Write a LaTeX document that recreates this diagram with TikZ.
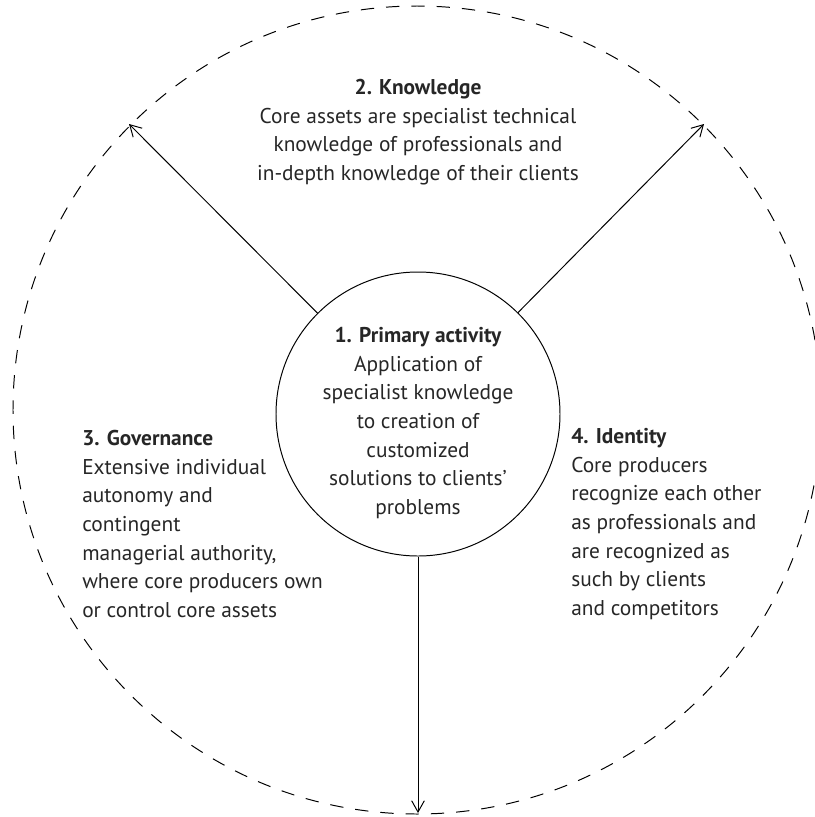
\documentclass[tikz,border=0pt]{standalone}
\usepackage{fontspec}
\setmainfont{PT Sans}
\usetikzlibrary{arrows.meta}

\begin{document}
\begin{tikzpicture}[
   x=0.025cm, y=-0.025cm,
   hub/.style={circle, draw=black, line width=0.7pt, inner sep=0,
               minimum size=284*0.025cm},
   rim/.style={draw=black, line width=0.7pt, dash pattern=on 9.5pt off 8.5pt},
   blurb/.style={font=\fontsize{15.2}{20.3}\selectfont, inner sep=0,
                 text=black!85},
   spoke/.style={-{Straight Barb[length=8pt, width=9pt]}, line width=0.7pt}
  ]

  \useasboundingbox (0, 0) rectangle (815, 817);

  % Outer ring
  \draw[rim] (417, 410) circle [radius=404];

  \coordinate (rimL) at (129, 124);
  \coordinate (rimR) at (704, 124);
  \coordinate (rimB) at (418, 813);

  \node (hub) at (418, 414) [hub] {};

  \node (act) at (418, 423) [blurb, align=center]
    {\textbf{1. Primary activity}\\ Application of\\ specialist knowledge\\
     to creation of\\ customized\\ solutions to clients'\\ problems};

  \node (know) at (418, 132) [blurb, align=center]
    {\textbf{2. Knowledge}\\ Core assets are specialist technical\\
     knowledge of professionals and\\ in-depth knowledge of their clients};

  \node (gov) at (82, 524) [blurb, align=left, anchor=west]
    {\textbf{3. Governance}\\ Extensive individual\\ autonomy and\\ contingent\\
     managerial authority,\\ where core producers own\\ or control core assets};

  \node (ident) at (571, 524) [blurb, align=left, anchor=west]
    {\textbf{4. Identity}\\ Core producers\\ recognize each other\\
     as professionals and\\ are recognized as\\ such by clients\\ and competitors};

  \foreach \E in {rimL, rimR, rimB} {
    \draw[spoke] (hub) -- (\E);
  }

\end{tikzpicture}
\end{document}
